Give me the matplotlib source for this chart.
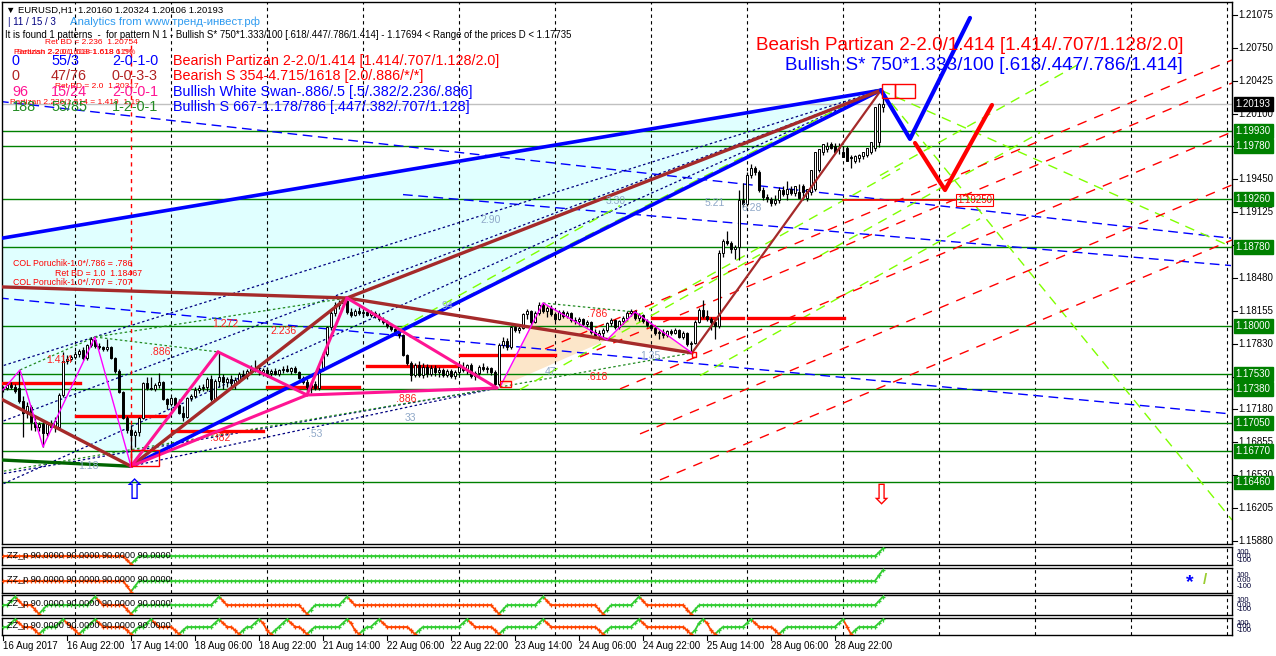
import matplotlib
matplotlib.use("Agg")
import matplotlib.pyplot as plt
import matplotlib.transforms as mtransforms
import numpy as np
from matplotlib.collections import LineCollection
from matplotlib.patches import Polygon, Rectangle

plt.rcParams["font.family"] = ["Liberation Sans", "DejaVu Sans"]

W, H = 1276, 656

# EURUSD H1 bars, 16 Aug 06:00 .. 29 Aug 10:00, prices in pips above 1.16000
OPEN = [138, 139, 142, 140, 139, 126, 115, 120, 106, 101, 104, 95, 104, 101, 101, 132, 166, 168, 170, 173,
        177, 169, 182, 187, 181, 180, 178, 180, 169, 156, 135, 110, 98, 93, 96, 110, 144, 139, 138, 142,
        145, 128, 123, 129, 122, 115, 111, 129, 131, 137, 139, 140, 148, 128, 146, 150, 145, 148, 144, 147,
        153, 151, 156, 158, 157, 155, 157, 154, 156, 153, 157, 158, 156, 159, 155, 149, 145, 140, 143, 139,
        158, 173, 199, 213, 221, 223, 225, 214, 211, 215, 213, 214, 211, 213, 210, 207, 204, 200, 197, 194,
        191, 172, 164, 152, 162, 152, 160, 153, 159, 155, 157, 152, 156, 151, 155, 160, 157, 162, 151, 154,
        160, 158, 159, 155, 143, 182, 186, 180, 199, 196, 198, 212, 215, 204, 213, 221, 215, 218, 212, 207,
        214, 210, 213, 206, 205, 207, 202, 204, 194, 191, 193, 196, 203, 206, 199, 205, 208, 213, 215, 208,
        211, 205, 201, 198, 193, 194, 191, 195, 193, 196, 190, 193, 183, 184, 204, 216, 210, 207, 204, 200,
        272, 284, 282, 276, 278, 325, 321, 349, 356, 352, 335, 328, 326, 322, 325, 335, 331, 336, 332, 333,
        338, 327, 333, 336, 354, 372, 375, 380, 378, 376, 372, 376, 367, 363, 366, 368, 369, 372, 376, 382,
        416]
HIGH = [141, 144, 145, 143, 157, 131, 125, 122, 110, 106, 106, 106, 108, 111, 134, 175, 172, 172, 176, 178,
        180, 183, 190, 188, 184, 181, 188, 181, 170, 158, 136, 112, 103, 98, 111, 145, 150, 150, 144, 154,
        146, 129, 130, 130, 128, 121, 130, 133, 140, 142, 143, 150, 152, 148, 175, 153, 150, 152, 150, 155,
        157, 158, 162, 167, 161, 159, 160, 158, 159, 158, 161, 162, 160, 161, 156, 151, 148, 145, 146, 160,
        175, 200, 215, 224, 226, 228, 226, 218, 217, 219, 216, 217, 216, 215, 213, 209, 206, 203, 199, 196,
        192, 173, 166, 164, 166, 164, 163, 162, 162, 160, 159, 158, 158, 157, 163, 165, 163, 164, 156, 162,
        164, 161, 160, 157, 184, 190, 189, 200, 201, 201, 213, 217, 216, 215, 224, 223, 220, 221, 214, 216,
        216, 215, 214, 209, 209, 208, 206, 205, 197, 196, 198, 204, 208, 207, 206, 210, 215, 217, 216, 213,
        212, 207, 204, 200, 196, 197, 196, 197, 198, 197, 195, 194, 186, 206, 218, 226, 216, 209, 206, 275,
        286, 294, 284, 280, 335, 341, 352, 360, 358, 354, 337, 331, 328, 330, 337, 338, 343, 338, 337, 340,
        340, 335, 338, 356, 374, 378, 382, 382, 381, 381, 378, 378, 369, 369, 370, 371, 374, 378, 384, 420,
        432]
LOW = [135, 137, 138, 134, 124, 91, 110, 98, 97, 97, 81, 92, 99, 96, 99, 130, 163, 166, 168, 170,
       167, 167, 180, 179, 178, 176, 176, 168, 154, 134, 109, 95, 62, 81, 92, 109, 137, 137, 136, 139,
       127, 118, 121, 121, 114, 107, 110, 126, 129, 134, 136, 136, 126, 127, 140, 138, 140, 140, 138, 144,
       149, 148, 153, 155, 152, 151, 153, 151, 152, 151, 154, 155, 153, 154, 148, 143, 133, 134, 137, 137,
       156, 171, 196, 210, 217, 219, 212, 209, 210, 211, 209, 210, 209, 208, 205, 202, 198, 195, 192, 189,
       171, 162, 146, 150, 150, 149, 150, 151, 151, 150, 150, 150, 149, 148, 152, 155, 153, 149, 147, 152,
       156, 154, 152, 140, 141, 179, 177, 178, 194, 193, 197, 207, 201, 203, 211, 213, 209, 210, 205, 206,
       208, 208, 204, 202, 201, 200, 199, 192, 189, 187, 190, 194, 200, 197, 197, 202, 206, 210, 206, 205,
       203, 199, 196, 191, 188, 189, 190, 191, 192, 189, 188, 181, 174, 183, 203, 208, 205, 196, 188, 198,
       268, 280, 272, 266, 265, 318, 319, 346, 349, 333, 325, 323, 319, 320, 322, 329, 325, 330, 329, 330,
       325, 324, 330, 334, 352, 369, 372, 375, 373, 370, 369, 366, 356, 361, 362, 365, 367, 370, 373, 377,
       411]
CLOSE = [139, 142, 140, 136, 126, 115, 121, 106, 101, 104, 95, 104, 101, 107, 132, 166, 168, 170, 173, 176,
         169, 182, 188, 181, 180, 178, 180, 169, 156, 135, 110, 98, 93, 96, 110, 144, 139, 138, 142, 145,
         128, 123, 129, 122, 115, 111, 129, 131, 137, 139, 140, 148, 128, 146, 150, 145, 148, 144, 147, 153,
         151, 156, 158, 157, 155, 157, 154, 156, 153, 157, 158, 156, 159, 155, 149, 145, 140, 143, 139, 158,
         173, 199, 213, 221, 223, 225, 214, 211, 215, 213, 214, 211, 213, 210, 207, 204, 200, 197, 194, 191,
         172, 164, 152, 162, 152, 160, 153, 159, 155, 157, 152, 156, 151, 155, 160, 157, 162, 151, 154, 160,
         158, 159, 155, 143, 182, 186, 180, 199, 196, 198, 212, 215, 204, 213, 221, 215, 218, 212, 207, 214,
         210, 213, 206, 205, 207, 202, 204, 194, 191, 193, 196, 203, 206, 199, 205, 208, 213, 215, 208, 211,
         205, 201, 198, 193, 194, 191, 195, 193, 196, 190, 193, 183, 184, 204, 216, 210, 207, 204, 200, 272,
         284, 282, 276, 278, 325, 321, 349, 356, 352, 335, 328, 326, 322, 325, 335, 331, 336, 332, 338, 327,
         333, 336, 354, 372, 375, 380, 378, 376, 372, 376, 367, 363, 366, 368, 369, 372, 376, 382, 416, 419,
         419]

DATE_BARS = [0, 16, 32, 48, 64, 80, 96, 112, 128, 144, 160, 176, 192, 208]
DATE_LABELS = ["16 Aug 2017", "16 Aug 22:00", "17 Aug 14:00", "18 Aug 06:00", "18 Aug 22:00",
               "21 Aug 14:00", "22 Aug 06:00", "22 Aug 22:00", "23 Aug 14:00", "24 Aug 06:00",
               "24 Aug 22:00", "25 Aug 14:00", "28 Aug 06:00", "28 Aug 22:00"]
DAY_BARS = [18 + 24 * k for k in range(13)]

PRICE_TICKS = [1.21075, 1.20750, 1.20425, 1.20100, 1.19775, 1.19450, 1.19125, 1.18800, 1.18480,
               1.18155, 1.17830, 1.17505, 1.17180, 1.16855, 1.16530, 1.16205, 1.15880]
LEVELS = [1.19930, 1.19780, 1.19260, 1.18780, 1.18000, 1.17530, 1.17380, 1.17050, 1.16770, 1.16460]
LAST_PRICE = 1.20193

# pattern points (bar, price)
CYAN_ZONE = [(-1, 1.18865), (219.5, 1.20330), (32, 1.16620), (-1, 1.17294)]
BLUE_LEGS = [[(-1, 1.18865), (219.5, 1.20330)], [(32, 1.16620), (219.5, 1.20330)]]
BROWN_LEGS = [[(-1, 1.18390), (86, 1.18280)], [(-1, 1.17294), (32, 1.16620)],
              [(32, 1.16620), (86, 1.18280)], [(86, 1.18280), (172.25, 1.17738)],
              [(86, 1.18280), (219.5, 1.20330)]]
BROWN_CD = [(172.25, 1.17738), (219.5, 1.20330)]
PINK_LEGS = [[(32, 1.16620), (53.75, 1.17748)], [(53.75, 1.17748), (76, 1.17323)],
             [(32, 1.16620), (76, 1.17323)], [(76, 1.17323), (86, 1.18280)],
             [(86, 1.18280), (123.5, 1.17392)], [(76, 1.17323), (123.5, 1.17392)]]
ZIGZAG_1 = [(0, 1.17373), (4.25, 1.17570), (10, 1.16811), (23, 1.17895), (32, 1.16620)]
ZIGZAG_2 = [(124.25, 1.17402), (135, 1.18231), (151, 1.17866), (158, 1.18142), (172.25, 1.17738)]
PEACH_1 = [(124.25, 1.17402), (135, 1.18231), (151, 1.17866)]
PEACH_2 = [(151, 1.17866), (158, 1.18142), (172.25, 1.17738)]
DARK_GREEN = [(-1, 1.16683), (32, 1.16620)]
DAY_LINES = [(-1, 19.25, 1.17442), (18.25, 41.25, 1.17116), (42.25, 65, 1.16968), (66, 89, 1.17402),
             (91, 114.25, 1.17610), (114.25, 138, 1.17718), (162.25, 185, 1.18083), (186.25, 210.25, 1.18083)]
TARGET_LINE = (210, 238, 1.19250)
BLUE_V = [(219.5, 1.20330), (226.75, 1.19849), (241.75, 1.21043)]
RED_V = [(228, 1.19809), (235.5, 1.19345), (247.25, 1.20184)]
BLUE_DASHED = [[(-1, 1.18280), (307, 1.17136)], [(-1, 1.20220), (307, 1.18870)],
               [(100, 1.19300), (307, 1.18600)]]
NAVY_DOTTED = [[(-1, 1.16428), (219.5, 1.20330)], [(-1, 1.17050), (219.5, 1.20330)],
               [(-1, 1.17600), (219.5, 1.20330)], [(32, 1.16620), (123.5, 1.17392)],
               [(-1, 1.16540), (123.5, 1.17392)]]
GREEN_DOTTED = [[(-1, 1.16564), (123.5, 1.17392)], [(23, 1.17895), (86, 1.18280)],
                [(23, 1.17895), (53.75, 1.17748)], [(4.25, 1.17570), (23, 1.17895)],
                [(124.25, 1.17402), (172.25, 1.17738)], [(135, 1.18231), (158, 1.18142)]]
LIME_DASHED = [[(219.5, 1.20330), (307.25, 1.16090)], [(219.5, 1.20330), (307.25, 1.18783)],
               [(34, 1.16660), (219.5, 1.20360)],
               [(99.25, 1.17979), (154.25, 1.19192)], [(129.25, 1.17377), (189.25, 1.18709)],
               [(154.25, 1.18008), (224.25, 1.19556)], [(174.25, 1.17514), (244.25, 1.19063)],
               [(204.25, 1.18698), (259.25, 1.19912)], [(219.25, 1.19488), (269.25, 1.20593)]]
RED_DASHED = [[(135.5, 1.17777), (307.25, 1.20628)], [(144.25, 1.17698), (307.25, 1.20401)],
              [(154.25, 1.17383), (307.25, 1.19918)], [(159.25, 1.16939), (307.25, 1.19395)],
              [(164.25, 1.16485), (307.25, 1.18852)]]
BOXES = [(32, 39, 1.16620, 1.16780), (124.25, 127, 1.17402, 1.17460), (172.25, 173.25, 1.17700, 1.17750),
         (219.75, 223, 1.20257, 1.20395), (223, 228, 1.20257, 1.20395)]

# ZZ_p sub-windows, run-length (value, bars)
ZZ_1 = [(0, 31), (-100, 1), (-200, 1), (-100, 1), (0, 185), (100, 1), (200, 1)]
ZZ_2 = ZZ_1
ZZ_3 = [(0, 2), (100, 1), (200, 1), (100, 1), (0, 3), (-100, 1), (-200, 1), (-100, 1), (0, 11),
        (100, 1), (200, 1), (100, 1), (0, 6), (-100, 1), (-200, 1), (-100, 1), (0, 19), (100, 1),
        (200, 1), (100, 1), (0, 19), (-100, 1), (-200, 1), (-100, 1), (0, 7), (100, 1), (200, 1),
        (100, 1), (0, 35), (-100, 1), (-200, 1), (-100, 1), (0, 8), (100, 1), (200, 1), (100, 1),
        (0, 12), (-100, 1), (-200, 1), (-100, 1), (0, 6), (100, 1), (200, 1), (100, 1), (0, 10),
        (-100, 1), (-200, 1), (-100, 1), (0, 45), (100, 1), (200, 1)]
ZZ_4 = [(0, 2), (100, 1), (200, 1), (100, 1), (0, 3), (-100, 1), (-200, 1), (-100, 1), (0, 3),
        (100, 1), (200, 1), (100, 1), (0, 1), (-100, 1), (-200, 1), (-100, 1), (0, 1), (100, 1),
        (200, 1), (100, 1), (0, 6), (-100, 1), (-200, 1), (-100, 1), (0, 2), (100, 1), (200, 1),
        (100, 1), (0, 4), (-100, 1), (-200, 1), (-100, 1), (0, 7), (100, 1), (200, 1), (100, 1),
        (0, 2), (-100, 1), (-200, 1), (-100, 1), (0, 2), (100, 1), (200, 1), (100, 1), (-100, 1),
        (-200, 1), (-100, 1), (0, 1), (100, 1), (200, 1), (100, 1), (0, 2), (-100, 1), (-200, 1),
        (-100, 1), (0, 7), (100, 1), (200, 1), (100, 1), (-100, 1), (-200, 1), (-100, 1), (0, 2),
        (100, 1), (200, 1), (100, 1), (0, 6), (-100, 1), (-200, 1), (-100, 1), (0, 10), (100, 1),
        (200, 1), (100, 1), (0, 5), (-100, 1), (-200, 1), (-100, 1), (0, 8), (100, 1), (200, 1),
        (100, 1), (0, 12), (-100, 1), (-200, 1), (-100, 1), (0, 6), (100, 1), (200, 1), (100, 1),
        (0, 10), (-100, 1), (-200, 1), (-100, 1), (100, 1), (200, 1), (100, 1), (-100, 1), (-200, 1),
        (-100, 1), (0, 6), (100, 1), (200, 1), (100, 1), (0, 4), (-100, 1), (-200, 1), (-100, 1),
        (0, 13), (100, 1), (200, 1), (0, 1), (-200, 1), (-100, 1), (0, 5), (100, 1), (200, 1)]
ZZ_START = ["#FF4500", "#FF4500", "#32CD32", "#32CD32"]

XMIN, XMAX = -0.25, 307.25
YMIN, YMAX = 1.15853, 1.21200


def to_price(pips):
    return 1.16 + np.asarray(pips, dtype=float) / 10000.0


def axes_box(top, bottom):
    return [2 / W, 1 - bottom / H, 1230 / W, (bottom - top) / H]


def line(ax, pts, **kw):
    xs, ys = zip(*pts)
    ax.plot(xs, ys, solid_capstyle="round", **kw)


def ftext(fig, x, y, s, **kw):
    fig.text(x / W, 1 - y / H, s, va="center", **kw)


def expand(runs):
    return np.concatenate([np.full(n, v, dtype=float) for v, n in runs])


def style_axes(ax):
    ax.set_xlim(XMIN, XMAX)
    ax.set_xticks([])
    ax.set_yticks([])
    for sp in ax.spines.values():
        sp.set_linewidth(1.0)
        sp.set_color("black")
    for b in DAY_BARS:
        ax.axvline(b, color="black", lw=0.8, ls=(0, (3, 3)), zorder=1)


fig = plt.figure(figsize=(W / 100, H / 100), dpi=100)
fig.patch.set_facecolor("white")

ax = fig.add_axes(axes_box(2, 544))
style_axes(ax)
ax.set_ylim(YMIN, YMAX)
right = mtransforms.blended_transform_factory(ax.transAxes, ax.transData)

# pattern zones
ax.add_patch(Polygon(CYAN_ZONE, closed=True, fc="#E0FFFF", ec="none", zorder=0))
ax.add_patch(Polygon(PEACH_1, closed=True, fc="#FCE6C9", ec="none", zorder=0.5))
ax.add_patch(Polygon(PEACH_2, closed=True, fc="#FCE6C9", ec="none", zorder=0.5))

for lvl in LEVELS:
    ax.axhline(lvl, color="#008000", lw=1.0, zorder=2)
ax.axhline(LAST_PRICE, color="#C0C0C0", lw=1.0, zorder=2)

for pts in BLUE_DASHED:
    line(ax, pts, color="#0000FF", lw=1.0, ls=(0, (7, 4)), zorder=2)
for pts in NAVY_DOTTED:
    line(ax, pts, color="#000080", lw=0.9, ls=(0, (2, 2)), zorder=2)
for pts in GREEN_DOTTED:
    line(ax, pts, color="#228B22", lw=0.9, ls=(0, (2, 2)), zorder=2)
for pts in LIME_DASHED:
    line(ax, pts, color="#7FFF00", lw=1.0, ls=(0, (7, 5)), zorder=2)
for pts in RED_DASHED:
    line(ax, pts, color="#FF0000", lw=1.0, ls=(0, (7, 6)), zorder=2)
ax.plot([32, 32], [1.16620, 1.20790], color="#FF0000", lw=1.0, ls=(0, (3, 3)), zorder=2)

for x0, x1, y in DAY_LINES:
    ax.plot([x0, x1], [y, y], color="#FF0000", lw=2.4, zorder=3)
ax.plot(TARGET_LINE[:2], [TARGET_LINE[2]] * 2, color="#FF0000", lw=1.2, zorder=3)
line(ax, DARK_GREEN, color="#006400", lw=2.4, zorder=3)

# candles
o, h, l, c = (to_price(v) for v in (OPEN, HIGH, LOW, CLOSE))
bars = np.arange(len(o))
ax.vlines(bars, l, h, color="black", lw=0.9, zorder=4)
up = c >= o
ax.bar(bars[up], np.maximum(c[up] - o[up], 0.00003), bottom=o[up], width=0.62,
       color="white", edgecolor="black", linewidth=0.7, zorder=5)
ax.bar(bars[~up], o[~up] - c[~up], bottom=c[~up], width=0.62,
       color="black", edgecolor="black", linewidth=0.7, zorder=5)

# pattern legs
for pts in BLUE_LEGS:
    line(ax, pts, color="#0000FF", lw=2.6, zorder=6)
for pts in BROWN_LEGS:
    line(ax, pts, color="#A52A2A", lw=2.4, zorder=6)
line(ax, BROWN_CD, color="#A52A2A", lw=1.6, zorder=6)
for pts in PINK_LEGS:
    line(ax, pts, color="#FF1493", lw=2.2, zorder=6)
line(ax, ZIGZAG_1, color="#FF00FF", lw=1.0, zorder=6)
line(ax, ZIGZAG_2, color="#FF00FF", lw=1.0, zorder=6)
line(ax, BLUE_V, color="#0000FF", lw=3.0, zorder=6)
line(ax, RED_V, color="#FF0000", lw=3.0, zorder=6)
for x0, x1, y0, y1 in BOXES:
    ax.add_patch(Rectangle((x0, y0), x1 - x0, y1 - y0, fc="none", ec="#FF0000", lw=1.0, zorder=7))

# price scale
for t in PRICE_TICKS:
    ax.plot([1.0, 1.004], [t, t], transform=right, color="black", lw=0.8, clip_on=False)
    ax.text(1.005, t, f"{t:.5f}", transform=right, ha="left", va="center", fontsize=7)
for lvl in LEVELS:
    ax.text(1.003, lvl, f"{lvl:.5f}", transform=right, ha="left", va="center", fontsize=7,
            color="white", bbox=dict(boxstyle="square,pad=0.2", fc="#008000", ec="#008000"))
ax.text(1.003, LAST_PRICE, f"{LAST_PRICE:.5f}", transform=right, ha="left", va="center", fontsize=7,
        color="white", bbox=dict(boxstyle="square,pad=0.2", fc="black", ec="black"))

# chart labels
ftext(fig, 6, 10, "▼ EURUSD,H1  1.20160 1.20324 1.20106 1.20193", fontsize=6.8)
ftext(fig, 8, 22, "| 11 / 15 / 3", fontsize=7, color="#000080")
ftext(fig, 70, 22, "Analytics from www.тренд-инвест.рф", fontsize=8.2, color="#2E9BF0")
ftext(fig, 5, 35, "It is found 1 patterns  -  for pattern N 1 - Bullish S* 750*1.333/100 "
      "[.618/.447/.786/1.414] - 1.17694 < Range of the prices D < 1.17735", fontsize=6.9)
ftext(fig, 45, 42, "Ret BD = 2.236  1.20754", fontsize=6, color="#FF0000")
ftext(fig, 14, 52, "Partizan 2-2.0/1.618 1.618 61%", fontsize=6, color="#FF0000")
ftext(fig, 17, 53, "Bearish 2.20/1.618=1.618 1.5%", fontsize=6, color="#FF0000", alpha=0.8)
ftext(fig, 55, 87, "Ret BD = 2.0  1.20317", fontsize=6, color="#FF0000")
ftext(fig, 10, 103, "Partizan 2.236/1.514 = 1.419  1.19", fontsize=6, color="#FF0000")

rows = [("0", "55/3", "2-0-1-0", "#0000FF", "Bearish Partizan 2-2.0/1.414 [1.414/.707/1.128/2.0]", "#FF0000"),
        ("0", "47/76", "0-0-3-3", "#B22222", "Bearish S 354-4.715/1618 [2.0/.886/*/*]", "#FF0000"),
        ("96", "15/24", "2-0-0-1", "#FF1493", "Bullish White Swan-.886/.5 [.5/.382/2.236/.886]", "#0000FF"),
        ("188", "53/85", "1-2-0-1", "#228B22", "Bullish S 667-1.178/786 [.447/.382/.707/1.128]", "#0000FF")]
for k, (a, b, cc, col, desc, dcol) in enumerate(rows):
    y = 61 + 15.4 * k
    ftext(fig, 12, y, a, fontsize=10.4, color=col)
    ftext(fig, 51, y, b, fontsize=10.4, color=col)
    ftext(fig, 112, y, cc, fontsize=10.4, color=col)
    ftext(fig, 173, y, desc, fontsize=10.4, color=dcol)

fig.text(1183 / W, 1 - 45 / H, "Bearish Partizan 2-2.0/1.414 [1.414/.707/1.128/2.0]",
         ha="right", va="center", fontsize=13.6, color="#FF0000")
fig.text(1183 / W, 1 - 66 / H, "Bullish S* 750*1.333/100 [.618/.447/.786/1.414]",
         ha="right", va="center", fontsize=13.6, color="#0000FF")

ftext(fig, 13, 264, "COL Poruchik-1.0*/.786 = .786", fontsize=6.3, color="#FF0000")
ftext(fig, 55, 273, "Ret BD = 1.0  1.18467", fontsize=6.3, color="#FF0000")
ftext(fig, 13, 282, "COL Poruchik-1.0*/.707 = .707", fontsize=6.3, color="#FF0000")

for x, y, s in [(46, 360, "1.414"), (150, 352, ".886"), (212, 324, "1.272"), (270, 331, "2.236"),
                (210, 438, ".382"), (396, 399, ".886"), (587, 314, ".786"), (587, 377, ".618")]:
    ftext(fig, x, y, s, fontsize=7.5, color="#FF2020")
for x, y, s in [(78, 466, "1.18"), (308, 434, ".53"), (480, 220, "2.90"), (405, 418, "33"),
                (442, 306, "94"), (545, 372, "47"), (640, 356, "1.35"), (606, 201, "3.30"),
                (705, 203, "5.21"), (742, 208, "6.28")]:
    ftext(fig, x, y, s, fontsize=7.5, color="#8FA8C8")

ftext(fig, 957, 200, "1.19250", fontsize=7, color="#FF0000",
      bbox=dict(boxstyle="square,pad=0.15", fc="none", ec="#FF0000", lw=0.8))
ftext(fig, 122, 492, "⇧", fontsize=20, color="#0000FF")
ftext(fig, 869, 497, "⇩", fontsize=20, color="#FF0000")

# ZZ_p windows
panels = [(547, 565), (568, 593), (595, 615), (618, 635)]
for idx, ((top, bottom), runs) in enumerate(zip(panels, [ZZ_1, ZZ_2, ZZ_3, ZZ_4])):
    sub = fig.add_axes(axes_box(top, bottom))
    style_axes(sub)
    sub.set_ylim(-225, 236)
    vals = expand(runs)
    xs = np.arange(len(vals))
    state = ZZ_START[idx]
    cols = [state]
    segs = []
    for i in range(1, len(vals)):
        if vals[i] > vals[i - 1]:
            state = "#32CD32"
        elif vals[i] < vals[i - 1]:
            state = "#FF4500"
        cols.append(state)
        segs.append([(xs[i - 1], vals[i - 1]), (xs[i], vals[i])])
    sub.add_collection(LineCollection(segs, colors=cols[1:], linewidths=1.3, zorder=3))
    sub.scatter(xs, vals, marker="+", s=10, c=cols, linewidths=0.9, zorder=4)
    sub.text(0.004, 0.55, "ZZ_p 90.0000 90.0000 90.0000 90.0000", transform=sub.transAxes,
             fontsize=6.6, va="center", ha="left", zorder=5)
    st = mtransforms.blended_transform_factory(sub.transAxes, sub.transData)
    for v, s in [(100, "100"), (0, "0.00"), (-100, "-100")]:
        sub.text(1.004, v, s, transform=st, fontsize=5.5, va="center", ha="left", color="#000033")
    if idx == 1:
        sub.text(0.966, 0.42, "*", transform=sub.transAxes, fontsize=14, color="#0000FF",
                 ha="center", va="center", fontweight="bold")
        sub.text(0.978, 0.5, "/", transform=sub.transAxes, fontsize=11, color="#9ACD32",
                 ha="center", va="center", fontweight="bold")
    if idx == 3:
        bt = mtransforms.blended_transform_factory(sub.transData, fig.transFigure)
        for b, lab in zip(DATE_BARS, DATE_LABELS):
            sub.plot([b, b], [1 - 636 / H, 1 - 640 / H], transform=bt, color="black", lw=0.8, clip_on=False)
            sub.text(b, 1 - 646 / H, lab, transform=bt, fontsize=7, ha="left", va="center")

fig.savefig("out.png", dpi=100)
